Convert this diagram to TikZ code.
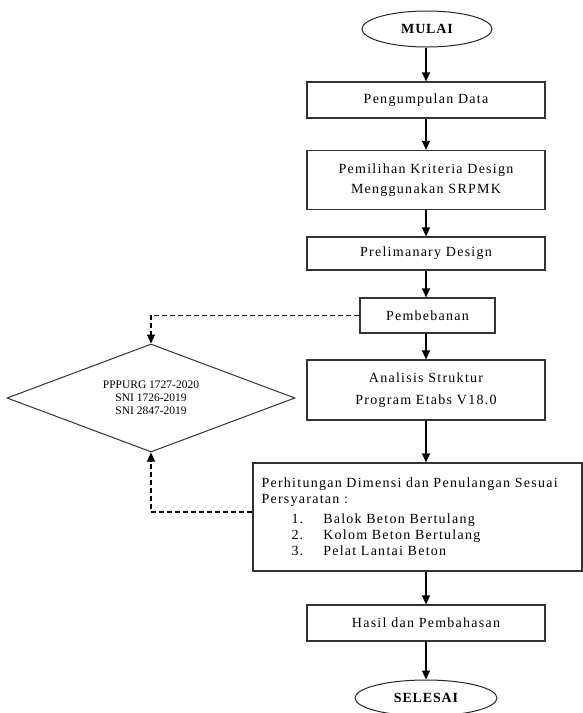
\documentclass[tikz,border=0pt]{standalone}
\usepackage{fontspec}
\setmainfont{Liberation Serif}
\newfontfamily\boxfont{Liberation Serif}[LetterSpace=9]
\newfontfamily\termfont{Liberation Serif}[LetterSpace=6]
\newfontfamily\dfont{Liberation Serif}
\usetikzlibrary{shapes.geometric,arrows.meta}
\tikzset{
  procbox/.style={draw=black!80, line width=1.2pt, inner sep=0pt, align=center,
    font=\boxfont\fontsize{14}{20}\selectfont},
  term/.style={ellipse, draw=black!85, line width=1pt, inner sep=0pt,
    font=\termfont\bfseries\fontsize{14}{15}\selectfont},
  decis/.style={diamond, draw=black!80, line width=1pt, inner sep=0pt, aspect=2.667,
    align=center, font=\dfont\fontsize{11.5}{12.8}\selectfont},
  flow/.style={line width=1.3pt, -{Triangle[width=8pt,length=9pt]}},
  dflow/.style={line width=1.1pt, dash pattern=on 5pt off 3pt, -{Triangle[width=8pt,length=9pt]}},
}
\begin{document}
\begin{tikzpicture}[x=1pt,y=-1pt]
\useasboundingbox (0,0) rectangle (583,713);
\clip (0,0) rectangle (583,713);
\node[term, minimum width=130pt, minimum height=36pt] (mulai) at (427,29) {MULAI};
\node[procbox, minimum width=238pt, minimum height=36pt] (pd) at (426,100) {Pengumpulan Data};
\node[procbox, minimum width=238pt, minimum height=59pt] (pk) at (426,180) {Pemilihan Kriteria Design\\Menggunakan SRPMK};
\node[procbox, minimum width=238pt, minimum height=33pt] (prel) at (426,253.5) {Prelimanary Design};
\node[procbox, minimum width=135pt, minimum height=35pt] (pemb) at (427.5,315.5) {Pembebanan};
\node[procbox, minimum width=238pt, minimum height=60pt, font=\boxfont\fontsize{14}{22}\selectfont] (anal) at (426,390) {Analisis Struktur\\Program  Etabs V18.0};
\node[procbox, minimum width=329pt, minimum height=108pt, text width=312pt, align=left,
  font=\boxfont\fontsize{14}{16}\selectfont] (perh) at (417.5,517)
  {Perhitungan Dimensi  dan Penulangan Sesuai\\Persyaratan :\\[4pt]
   \hspace*{30pt}1.\hspace*{20pt}Balok Beton Bertulang\\
   \hspace*{30pt}2.\hspace*{20pt}Kolom Beton Bertulang\\
   \hspace*{30pt}3.\hspace*{20pt}Pelat Lantai Beton};
\node[procbox, minimum width=238pt, minimum height=36pt] (hasil) at (426,623) {Hasil dan Pembahasan};
\node[term, minimum width=142pt, minimum height=36pt] (sel) at (426,698) {SELESAI};
\node[decis, minimum width=288pt, minimum height=108pt] (dia) at (151,398)
  {PPPURG 1727-2020\\SNI 1726-2019\\SNI 2847-2019};
\draw[flow] (mulai.south -| pd.north) -- (pd.north);
\draw[flow] (pd) -- (pk);
\draw[flow] (pk) -- (prel);
\draw[flow] (prel.south) -- (prel.south |- pemb.north);
\draw[flow] (pemb.south -| prel.south) -- (anal.north);
\draw[flow] (anal.south) -- (anal.south |- perh.north);
\draw[flow] (perh.south -| anal.south) -- (hasil.north);
\draw[flow] (hasil.south) -- (hasil.south |- sel.north);
\draw[dflow] (pemb.west) -| (dia.north);
\draw[dflow] ([yshift=5pt]perh.west) -| (dia.south);
\end{tikzpicture}
\end{document}
